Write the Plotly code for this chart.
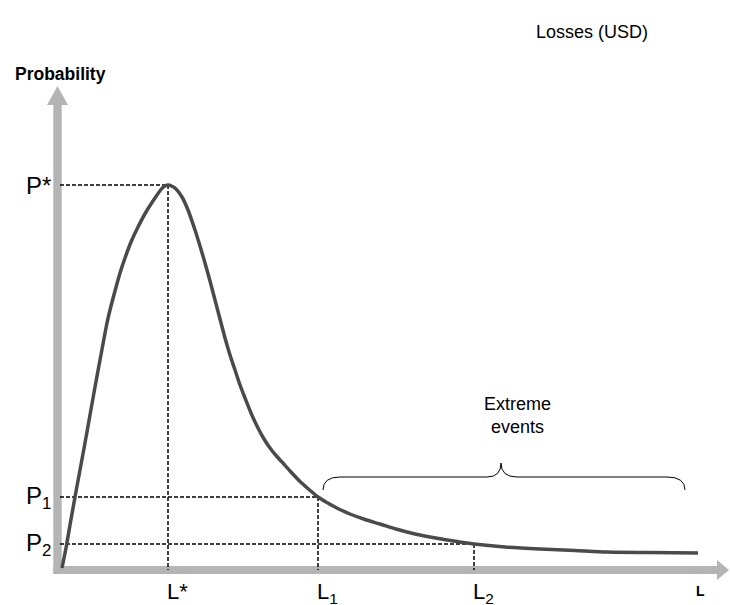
import plotly.graph_objects as go

# ---- data (x: losses, y: probability) ----
curve_x = [0.02, 0.06, 0.10, 0.15, 0.20, 0.25, 0.30, 0.35, 0.40, 0.47, 0.51, 0.55,
           0.60, 0.65, 0.71, 0.78, 0.86, 0.95, 1.01, 1.04, 1.08, 1.12, 1.16, 1.22,
           1.28, 1.35, 1.40, 1.45, 1.50, 1.55, 1.60, 1.65, 1.70, 1.75, 1.80, 1.85,
           1.91, 1.98, 2.04, 2.10, 2.16, 2.22, 2.31, 2.40, 2.49, 2.58, 2.66, 2.75,
           2.82, 2.90, 3.05, 3.20, 3.36, 3.53, 3.70, 3.87, 4.14, 4.45, 4.80, 5.15,
           5.47, 5.90, 6.38]
curve_y = [0.002, 0.022, 0.045, 0.073, 0.100, 0.127, 0.155, 0.183, 0.210, 0.247, 0.264, 0.279,
           0.297, 0.312, 0.328, 0.343, 0.358, 0.372, 0.3805, 0.3835, 0.385, 0.3837, 0.381, 0.373,
           0.360, 0.340, 0.324, 0.307, 0.289, 0.270, 0.251, 0.232, 0.215, 0.200, 0.185, 0.172,
           0.157, 0.142, 0.131, 0.122, 0.1145, 0.108, 0.098, 0.0885, 0.0805, 0.073, 0.068, 0.063,
           0.0595, 0.056, 0.0505, 0.046, 0.041, 0.0365, 0.033, 0.030, 0.026, 0.023, 0.021, 0.0195,
           0.018, 0.0175, 0.017]

key_L = [1.08, 2.58, 4.14]          # L*, L1, L2
key_P = [0.385, 0.073, 0.026]       # P*, P1, P2
L_labels = ["L*", "L<sub>1</sub>", "L<sub>2</sub>"]
P_labels = ["P*", "P<sub>1</sub>", "P<sub>2</sub>"]

FONT = "Liberation Sans, Arial, sans-serif"
GREY = "#b4b4b4"

fig = go.Figure()

# dashed guide lines
for L, P in zip(key_L, key_P):
    fig.add_trace(go.Scatter(x=[0.0, L, L], y=[P, P, 0.0], mode="lines",
                             line=dict(color="black", width=1.5, dash="4px,2px"),
                             hoverinfo="skip", showlegend=False))

# distribution curve
fig.add_trace(go.Scatter(x=curve_x, y=curve_y, mode="lines",
                         line=dict(color="#4a4a4a", width=3.5, shape="spline", smoothing=0.6),
                         hoverinfo="skip", showlegend=False))

shapes = [
    # y axis bar + arrow
    dict(type="rect", xref="x", yref="y", x0=-0.067, x1=0.017, y0=-0.004, y1=0.466,
         fillcolor=GREY, line=dict(width=0), layer="below"),
    dict(type="path", xref="x", yref="y", path="M -0.130,0.465 L 0.080,0.465 L -0.025,0.484 Z",
         fillcolor=GREY, line=dict(width=0), layer="below"),
    # x axis bar + arrow
    dict(type="rect", xref="x", yref="y", x0=-0.067, x1=6.58, y0=-0.004, y1=0.004,
         fillcolor=GREY, line=dict(width=0), layer="below"),
    dict(type="path", xref="x", yref="y", path="M 6.57,0.010 L 6.57,-0.010 L 6.69,0.0 Z",
         fillcolor=GREY, line=dict(width=0), layer="below"),
    # brace over extreme events
    dict(type="path", xref="x", yref="y",
         path=("M 2.63,0.080 Q 2.63,0.093 2.80,0.093 L 4.27,0.093 "
               "Q 4.41,0.093 4.41,0.107 Q 4.41,0.093 4.57,0.093 "
               "L 6.07,0.093 Q 6.25,0.093 6.25,0.080"),
         line=dict(color="black", width=1)),
]

annotations = []
for lab, P in zip(P_labels, key_P):
    annotations.append(dict(x=-0.07, y=P, xref="x", yref="y", text=lab, showarrow=False,
                            xanchor="right", yanchor="middle",
                            font=dict(family=FONT, size=24, color="black")))
for lab, L in zip(L_labels, key_L):
    annotations.append(dict(x=L - 0.03, y=-0.007, xref="x", yref="y", text=lab, showarrow=False,
                            xanchor="left", yanchor="top",
                            font=dict(family=FONT, size=22, color="black")))
annotations += [
    dict(x=6.40, y=-0.011, xref="x", yref="y", text="<b>L</b>", showarrow=False,
         xanchor="center", yanchor="top", font=dict(family=FONT, size=14, color="black")),
    dict(x=0.0, y=0.496, xref="x", yref="y", text="<b>Probability</b>", showarrow=False,
         xanchor="center", yanchor="middle", font=dict(family=FONT, size=17.5, color="black")),
    dict(x=5.32, y=0.538, xref="x", yref="y", text="Losses (USD)", showarrow=False,
         xanchor="center", yanchor="middle", font=dict(family=FONT, size=18, color="black")),
    dict(x=4.57, y=0.155, xref="x", yref="y", text="Extreme<br>events", showarrow=False,
         xanchor="center", yanchor="middle", font=dict(family=FONT, size=18, color="black")),
]

fig.update_layout(
    width=730, height=605,
    margin=dict(l=0, r=0, t=0, b=0),
    paper_bgcolor="white", plot_bgcolor="white",
    xaxis=dict(range=[-0.60, 6.70], visible=False, fixedrange=True),
    yaxis=dict(range=[-0.035, 0.570], visible=False, fixedrange=True),
    shapes=shapes, annotations=annotations, showlegend=False,
)

fig.write_html("out.html", config={"displayModeBar": False},
               post_script="document.body.style.margin='0';document.body.style.overflow='hidden';")
